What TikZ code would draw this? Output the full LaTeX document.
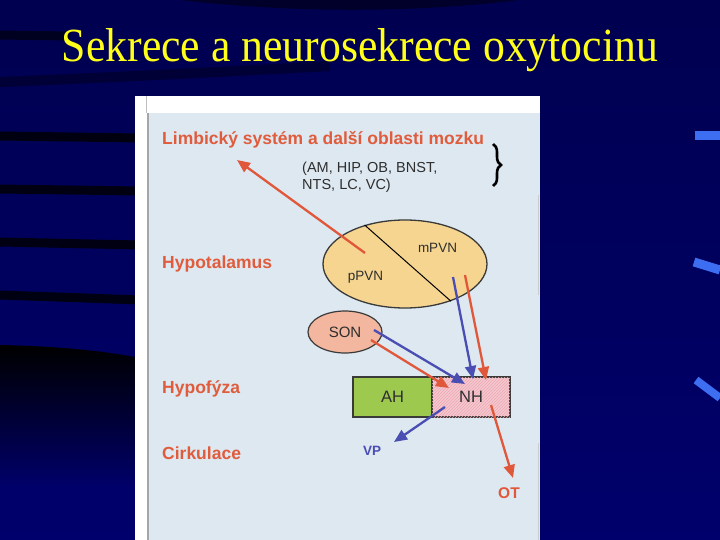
\documentclass[tikz,border=0pt]{standalone}
\usepackage{fontspec}
\setmainfont{Liberation Serif}
\setsansfont{Liberation Sans}
\usepackage{graphicx}
\usetikzlibrary{arrows.meta,shapes.geometric,patterns,decorations.pathreplacing}
\definecolor{bgtop}{HTML}{000050}
\definecolor{bgbot}{HTML}{00006C}
\definecolor{titleyellow}{HTML}{FFFF1A}
\definecolor{panelblue}{HTML}{DDE8F1}
\definecolor{lblred}{HTML}{E05C3C}
\definecolor{arrred}{HTML}{E0573A}
\definecolor{arrblue}{HTML}{4A4DB2}
\definecolor{hypfill}{HTML}{F6D590}
\definecolor{sonfill}{HTML}{F3B69E}
\definecolor{ahgreen}{HTML}{9CC94E}
\definecolor{nhpink}{HTML}{F5C8D0}
\definecolor{nhhatch}{HTML}{EBA8B2}
\definecolor{edgegray}{HTML}{3A3A3A}
\definecolor{txtgray}{HTML}{2E2E2E}
\definecolor{markblue}{HTML}{3D6EF2}
\begin{document}
\begin{tikzpicture}[x=1pt,y=-1pt,
  lbl/.style={anchor=base west, inner sep=0pt, text=lblred,
    font=\fontsize{17.5}{20}\selectfont\sffamily\bfseries},
  small/.style={inner sep=0pt, text=txtgray,
    font=\fontsize{14.5}{17}\selectfont\sffamily},
  nucl/.style={inner sep=0pt, text=txtgray,
    font=\fontsize{13.5}{16}\selectfont\sffamily},
  boxnode/.style={rectangle, draw=edgegray, line width=1.4pt, inner sep=0pt,
    minimum height=40pt, text=txtgray, font=\fontsize{16.5}{19}\selectfont\sffamily},
  redarr/.style={draw=arrred, line width=2.3pt, -{Triangle[length=13pt,width=11pt]}},
  bluearr/.style={draw=arrblue, line width=2.3pt, -{Triangle[length=13pt,width=11pt]}},
  band/.style={line width=9pt, black, opacity=0.8}]
\useasboundingbox (0,0) rectangle (720,540);
% background
\shade[top color=bgtop, bottom color=bgbot] (0,0) rectangle (720,540);
\fill[black, opacity=0.45] (180,0) .. controls (300,14) and (420,12) .. (520,0) -- cycle;
\draw[band, opacity=0.6] (0,35) -- (70,36);
\draw[line width=10pt, black, opacity=0.35] (0,82) .. controls (100,78) and (220,72) .. (330,66);
\draw[band] (0,136) -- (140,138);
\draw[band] (0,189) -- (140,191);
\draw[band] (0,242) -- (140,245);
\draw[band] (0,295) -- (140,300);
\shade[top color=black, bottom color=bgbot] (0,345) .. controls (50,346) and (100,350) .. (140,358) -- (140,490) -- (0,490) -- cycle;
\draw[markblue, line width=9pt] (695,136) -- (720,136);
\draw[markblue, line width=9pt] (694,262) -- (720,270);
\draw[markblue, line width=8pt] (696,380) -- (720,398);
% title
\node[anchor=base, inner sep=0pt, text=titleyellow] (title) at (360,62)
  {\resizebox{596pt}{33pt}{Sekrece a neurosekrece oxytocinu}};
% panel
\fill[white] (135,96) rectangle (540,540);
\fill[panelblue] (149,113) rectangle (540,540);
\draw[gray!70, line width=1.2pt] (148,113) -- (148,540);
\draw[gray!50, line width=0.8pt] (146,96) -- (146,113);
\draw[gray!40, line width=1pt] (538,195) -- (538,295);
\draw[gray!40, line width=1pt] (538,443) -- (538,540);
% labels
\node[lbl] (limb) at (162,145) {Limbický systém a další oblasti mozku};
\node[lbl] (hypot) at (162,268) {Hypotalamus};
\node[lbl] (hypof) at (162,393) {Hypofýza};
\node[lbl] (cirk) at (162,459) {Cirkulace};
\node[small, anchor=base west] (abbr1) at (302,173) {(AM, HIP, OB, BNST,};
\node[small, anchor=base west] (abbr2) at (302,190) {NTS, LC, VC)};
\coordinate (br1) at (493,144);
\coordinate (br2) at (493,186);
\draw[decorate, decoration={brace, amplitude=8pt}, line width=2.6pt, black] (br1) -- (br2);
% hypothalamus
\node[ellipse, draw=edgegray, fill=hypfill, line width=1.3pt,
  minimum width=164pt, minimum height=88pt, inner sep=0pt] (hyp) at (405,264) {};
\draw[black, line width=1pt] (hyp.136) -- (hyp.-39);
\node[nucl] (mpvn) at (437.5,248) {mPVN};
\node[nucl] (ppvn) at (365.5,277) {pPVN};
% SON
\node[ellipse, draw=edgegray, fill=sonfill, line width=1.2pt,
  minimum width=74pt, minimum height=42pt, inner sep=0pt, text=txtgray,
  font=\fontsize{15}{18}\selectfont\sffamily] (son) at (345,332) {SON};
% pituitary
\node[boxnode, fill=ahgreen, minimum width=79pt] (ah) at (392.5,397) {AH};
\node[boxnode, fill=nhpink, minimum width=78pt,
  postaction={pattern=north east lines, pattern color=nhhatch}] (nh) at (471,397) {NH};
% outputs
\node[inner sep=0pt, text=arrblue, font=\fontsize{13.5}{16}\selectfont\sffamily\bfseries] (vp) at (372,451) {VP};
\node[inner sep=0pt, text=arrred, font=\fontsize{15.5}{18}\selectfont\sffamily\bfseries] (ot) at (509,493) {OT};
% arrow end points
\coordinate (ppvnOut) at (365,253);
\coordinate (limbTip) at (237,160);
\coordinate (mBlueS) at (453,277);
\coordinate (mBlueT) at (473,379);
\coordinate (mRedS) at (465,275);
\coordinate (mRedT) at (486,380);
\coordinate (sBlueS) at (374,330);
\coordinate (sBlueT) at (465,384);
\coordinate (sRedS) at (371,340);
\coordinate (sRedT) at (449,388);
\coordinate (vpS) at (445,407);
\coordinate (vpT) at (394,442);
\coordinate (otS) at (491,405);
\coordinate (otT) at (513,478);
% arrows
\draw[redarr] (ppvnOut) -- (limbTip);
\draw[bluearr] (mBlueS) -- (mBlueT);
\draw[redarr] (mRedS) -- (mRedT);
\draw[bluearr] (sBlueS) -- (sBlueT);
\draw[redarr] (sRedS) -- (sRedT);
\draw[bluearr] (vpS) -- (vpT);
\draw[redarr] (otS) -- (otT);
\end{tikzpicture}
\end{document}
